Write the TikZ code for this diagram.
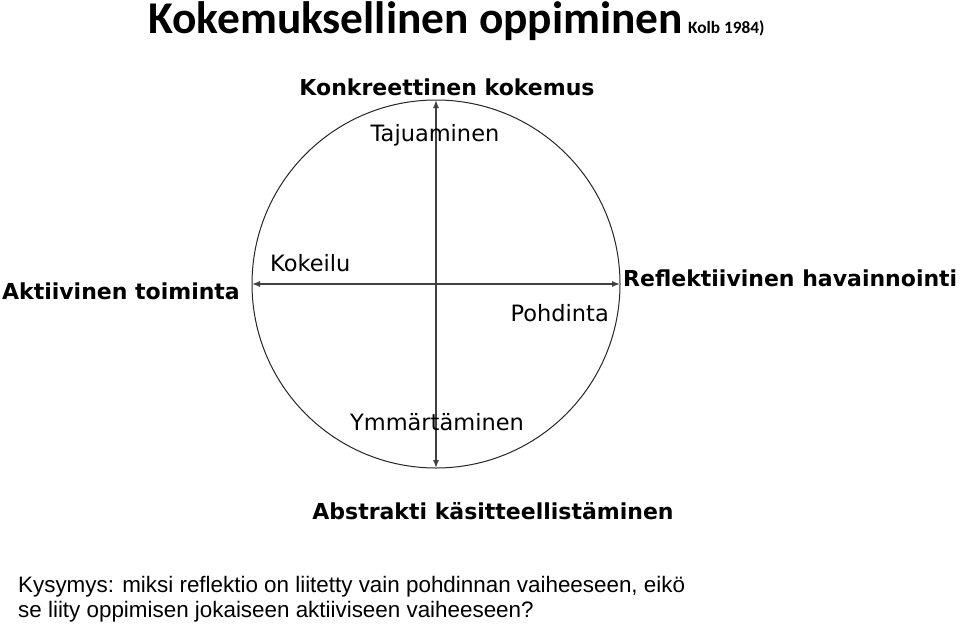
\documentclass[tikz,border=0pt]{standalone}
\usepackage{fontspec}
\setmainfont{DejaVu Sans}
\newfontfamily\calfont{Carlito}
\newfontfamily\arialfont{Liberation Sans}
\usetikzlibrary{arrows.meta}
\begin{document}
\begin{tikzpicture}[x=1pt,y=-1pt,
  lbl/.style={inner sep=0pt,font=\fontsize{22.5}{26}\selectfont},
  blbl/.style={inner sep=0pt,font=\fontsize{22}{26}\selectfont\bfseries},
  axis/.style={draw=black!75,line width=1.3pt,{Latex[length=8pt,width=6pt]}-{Latex[length=8pt,width=6pt]}}]
\useasboundingbox (0,0) rectangle (960,627);
\node[inner sep=0pt,anchor=base west,font=\calfont\fontsize{45.4}{50}\selectfont\bfseries] (title) at (148,33) {Kokemuksellinen oppiminen};
\node[inner sep=0pt,anchor=base west,font=\calfont\fontsize{17.3}{20}\selectfont\bfseries] (kolb) at (688,33) {Kolb 1984)};
\node[draw=black!85,line width=1pt,circle,minimum size=368pt,inner sep=0pt] (c) at (436,284) {};
\coordinate (top) at (436,100);
\coordinate (bot) at (436,468);
\coordinate (lft) at (252,284);
\coordinate (rgt) at (620,284);
\draw[axis] (bot) -- (top);
\draw[axis] (lft) -- (rgt);
\node[blbl] (konk) at (447,87) {Konkreettinen kokemus};
\node[lbl] (taju) at (435,135) {Tajuaminen};
\node[blbl,anchor=east] (akt) at (240,291) {Aktiivinen toiminta};
\node[lbl,anchor=west] (kok) at (270,263) {Kokeilu};
\node[lbl,anchor=east] (pohd) at (609,313) {Pohdinta};
\node[blbl,anchor=west] (refl) at (623,278) {Reflektiivinen havainnointi};
\node[lbl] (ymm) at (437,422) {Ymmärtäminen};
\node[blbl] (abs) at (493,511) {Abstrakti käsitteellistäminen};
\node[inner sep=0pt,anchor=base west,align=left,font=\arialfont\fontsize{22.4}{25}\selectfont] (q) at (18,617) {Kysymys: miksi reflektio on liitetty vain pohdinnan vaiheeseen, eikö\\se liity oppimisen jokaiseen aktiiviseen vaiheeseen?};
\end{tikzpicture}
\end{document}
